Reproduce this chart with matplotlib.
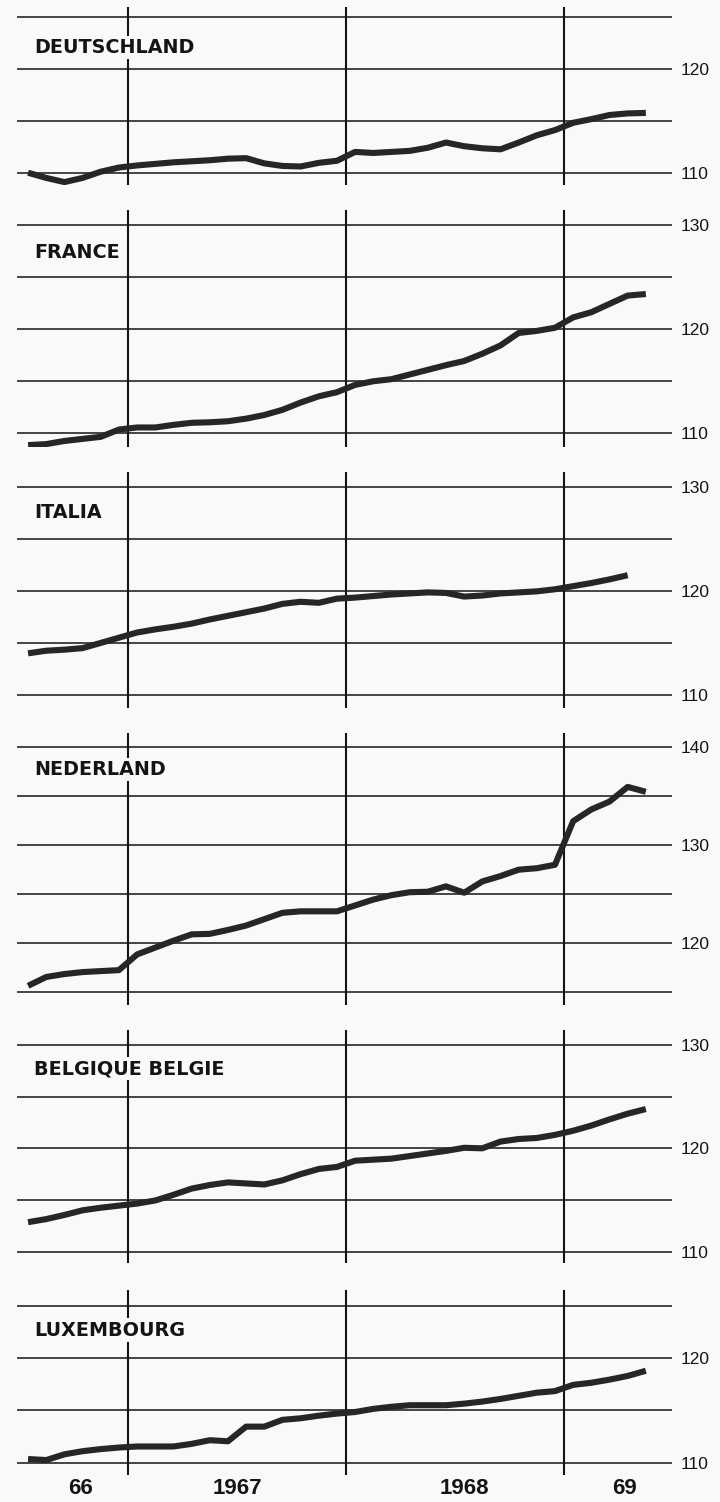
import matplotlib
matplotlib.use('Agg')
import matplotlib.pyplot as plt
import numpy as np
import pandas as pd

# Monthly index values, July 1966 - May 1969
months = pd.period_range('1966-07', '1969-05', freq='M')

deutschland = [110.0, 109.5, 109.1, 109.5, 110.1, 110.5, 110.7, 110.85, 111.0, 111.1,
               111.2, 111.35, 111.4, 110.9, 110.65, 110.6, 110.95, 111.15, 112.0, 111.9,
               112.0, 112.1, 112.4, 112.9, 112.55, 112.35, 112.25, 112.9, 113.6, 114.1,
               114.8, 115.15, 115.55, 115.7, 115.75]
france = [108.8, 108.9, 109.2, 109.4, 109.6, 110.3, 110.5, 110.5, 110.75, 110.95,
          111.0, 111.1, 111.35, 111.7, 112.2, 112.9, 113.5, 113.9, 114.6, 114.95,
          115.15, 115.6, 116.05, 116.5, 116.9, 117.6, 118.4, 119.6, 119.8, 120.1,
          121.1, 121.6, 122.4, 123.2, 123.35]
italia = [114.0, 114.25, 114.35, 114.5, 115.0, 115.5, 116.0, 116.3, 116.55, 116.85,
          117.25, 117.6, 117.95, 118.3, 118.75, 118.95, 118.85, 119.25, 119.35, 119.5,
          119.65, 119.75, 119.85, 119.8, 119.45, 119.55, 119.75, 119.85, 119.95, 120.15,
          120.45, 120.75, 121.1, 121.5]
nederland = [115.6, 116.5, 116.8, 117.0, 117.1, 117.2, 118.8, 119.5, 120.2, 120.85,
             120.9, 121.3, 121.75, 122.4, 123.05, 123.2, 123.2, 123.2, 123.8, 124.4,
             124.85, 125.15, 125.2, 125.75, 125.1, 126.25, 126.8, 127.45, 127.6, 127.95,
             132.4, 133.6, 134.4, 135.9, 135.4]
belgique = [112.85, 113.15, 113.55, 114.0, 114.25, 114.45, 114.65, 114.95, 115.5, 116.1,
            116.45, 116.7, 116.6, 116.5, 116.9, 117.5, 118.0, 118.2, 118.8, 118.9,
            119.0, 119.25, 119.5, 119.75, 120.05, 120.0, 120.65, 120.9, 121.0, 121.3,
            121.7, 122.2, 122.8, 123.35, 123.8]
luxembourg = [110.35, 110.25, 110.8, 111.1, 111.3, 111.45, 111.55, 111.55, 111.55, 111.8,
              112.15, 112.05, 113.45, 113.45, 114.1, 114.25, 114.5, 114.7, 114.85, 115.15,
              115.35, 115.5, 115.5, 115.5, 115.65, 115.85, 116.1, 116.4, 116.7, 116.85,
              117.45, 117.65, 117.95, 118.3, 118.8]

countries = ['DEUTSCHLAND', 'FRANCE', 'ITALIA', 'NEDERLAND', 'BELGIQUE BELGIE', 'LUXEMBOURG']
series = [deutschland, france, italia, nederland, belgique, luxembourg]
grid_levels = [[110, 115, 120, 125], [110, 115, 120, 125, 130], [110, 115, 120, 125, 130],
               [115, 120, 125, 130, 135, 140], [110, 115, 120, 125, 130], [110, 115, 120, 125]]
tick_labels = [[110, 120], [110, 120, 130], [110, 120, 130],
               [120, 130, 140], [110, 120, 130], [110, 120]]
year_labels = ['66', '1967', '1968', '69']

# layout: (top px, bottom px, ylim, label y)
layout = [
    (7, 185, (108.82, 125.93), 122.0),
    (210, 447, (108.62, 131.44), 127.3),
    (471.7, 708, (108.75, 131.44), 127.5),
    (733, 1005, (113.64, 141.4), 137.7),
    (1030, 1263, (108.9, 131.45), 127.7),
    (1290, 1475, (108.82, 126.53), 122.7),
]

W, H = 720, 1502
bg = '#f9f9f9'
ink = '#141414'
fig = plt.figure(figsize=(W / 100, H / 100), dpi=100, facecolor=bg)

x = np.array([(m - pd.Period('1967-01', freq='M')).n for m in months]) + 0.5
left, right = 17 / W, 672 / W

for i, (name, vals) in enumerate(zip(countries, series)):
    top, bot, ylim, label_y = layout[i]
    ax = fig.add_axes([left, 1 - bot / H, right - left, (bot - top) / H])
    ax.set_facecolor('none')
    for s in ax.spines.values():
        s.set_visible(False)
    ax.set_xlim(-6.11, 29.94)
    ax.set_ylim(*ylim)

    for lv in grid_levels[i]:
        ax.axhline(lv, color=ink, lw=1.1, zorder=1)
    for yr in [0, 12, 24]:
        ax.axvline(yr, color=ink, lw=1.5, zorder=1)

    ax.plot(x[:len(vals)], vals, color='#262626', lw=4.4,
            solid_joinstyle='round', solid_capstyle='butt', zorder=3)

    ax.text(-5.15, label_y, name, fontsize=13.8, fontweight='bold', color=ink,
            family='DejaVu Sans', va='center', ha='left', zorder=2,
            bbox=dict(facecolor=bg, edgecolor='none', pad=1.5))

    ax.yaxis.tick_right()
    ax.set_yticks(tick_labels[i])
    ax.set_yticklabels([str(t) for t in tick_labels[i]], family='Liberation Sans',
                       fontsize=12.5, color=ink)
    ax.tick_params(axis='y', length=0, pad=6)

    if i == len(countries) - 1:
        ax.set_xticks([-2.6, 6, 18.5, 27.35])
        ax.set_xticklabels(year_labels, family='Liberation Sans', fontweight='bold',
                           fontsize=16, color=ink)
        ax.tick_params(axis='x', length=0, pad=2)
    else:
        ax.set_xticks([])

fig.savefig('out.png', dpi=100, facecolor=bg)
